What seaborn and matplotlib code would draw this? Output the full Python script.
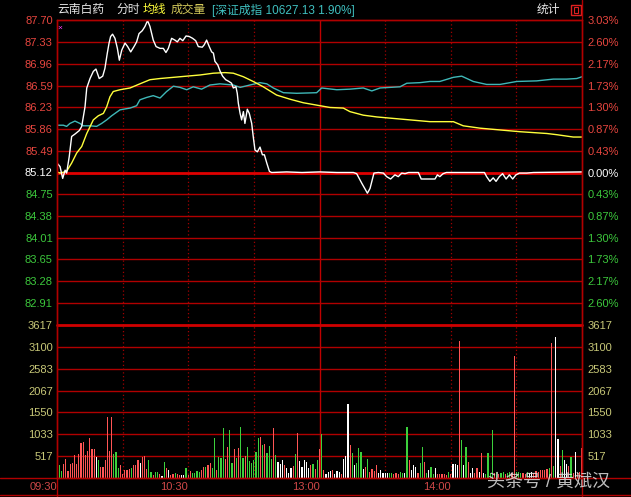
import pandas as pd
import matplotlib
matplotlib.use("Agg")
import matplotlib.pyplot as plt
from matplotlib.lines import Line2D
from matplotlib.patches import Rectangle
import seaborn as sns

W, H = 631, 497

# axis labels
price_ticks = [87.70, 87.33, 86.96, 86.59, 86.23, 85.86, 85.49, 85.12,
               84.75, 84.38, 84.01, 83.65, 83.28, 82.91]
pct_labels = ["3.03%", "2.60%", "2.17%", "1.73%", "1.30%", "0.87%", "0.43%", "0.00%",
              "0.43%", "0.87%", "1.30%", "1.73%", "2.17%", "2.60%"]
prev_close = 85.12
vol_ticks = [517, 1033, 1550, 2067, 2583, 3100, 3617]
time_ticks = [0, 60, 120, 180]
time_labels = ["09:30", "10:30", "13:00", "14:00"]

# price line (minute, price)
price_t = [0, 1.4, 2.6, 3.7, 4.4, 5.6, 6.7, 8.2, 10.2, 11.3, 12.8, 13.6, 15.1, 16.6, 17.8,
           19.3, 20.9, 21.9, 23.0, 23.8, 24.5, 25.4, 26.5, 27.6, 28.5, 29.6, 31.1, 32.3,
           33.7, 35.2, 36.4, 37.5, 39.0, 40.2, 41.4, 42.5, 44.0, 45.3, 47.1, 48.6, 49.8,
           50.9, 52.4, 53.9, 55.0, 56.2, 57.5, 59.0, 60.5, 62.0, 63.4, 64.6, 66.4, 67.3,
           68.4, 69.6, 70.7, 71.5, 72.2, 73.5, 74.5, 75.7, 77.1, 78.6, 79.8, 80.6, 81.8,
           82.4, 82.9, 83.7, 84.4, 85.2, 85.9, 87.0, 87.9, 89.0, 89.7, 90.5, 91.6, 92.8,
           93.9, 94.8, 95.9, 97.1, 98.1, 105, 112, 120, 128, 135.5, 137.0, 139.3, 141.9,
           143.1, 144.9, 146.9, 149.2, 150.7, 152.5, 154.5, 156.0, 157.6, 159.1, 160.7,
           165.2, 166.5, 172.8, 173.9, 175.0, 176.5, 178.0, 195.4, 196.4, 197.9, 199.4,
           200.7, 202.2, 203.7, 205.3, 206.8, 208.3, 209.8, 211.4, 214.7, 217.8, 240]
price_v = [85.28, 85.22, 85.02, 85.16, 85.11, 85.39, 85.73, 85.77, 85.83, 85.90, 86.23,
           86.55, 86.71, 86.83, 86.87, 86.71, 86.75, 86.88, 87.14, 87.31, 87.42, 87.46,
           87.39, 87.22, 87.02, 87.19, 87.31, 87.25, 87.16, 87.25, 87.33, 87.47, 87.52,
           87.59, 87.69, 87.59, 87.36, 87.25, 87.22, 87.22, 87.15, 87.22, 87.39, 87.36,
           87.33, 87.39, 87.35, 87.43, 87.42, 87.39, 87.35, 87.25, 87.24, 87.28, 87.36,
           87.25, 87.16, 87.14, 87.00, 86.94, 86.84, 86.75, 86.69, 86.66, 86.63, 86.55,
           86.57, 86.46, 86.29, 86.12, 86.01, 86.15, 85.95, 86.19, 86.12, 85.95, 85.73,
           85.50, 85.47, 85.55, 85.42, 85.42, 85.28, 85.14, 85.12, 85.13, 85.12, 85.13,
           85.12, 85.12, 85.10, 84.94, 84.77, 84.85, 85.11, 85.12, 85.11, 85.05, 85.01,
           85.08, 85.05, 85.11, 85.10, 85.12, 85.12, 85.01, 85.01, 85.08, 85.05, 85.10,
           85.12, 85.12, 85.05, 84.97, 85.03, 84.97, 85.05, 85.10, 85.01, 85.08, 85.01,
           85.08, 85.11, 85.11, 85.12, 85.13]

# average price line
avg_t = [0, 1.4, 4.4, 6.7, 9.0, 11.3, 13.6, 16.6, 18.9, 21.2, 22.7, 24.2, 25.7, 28.8, 33.4,
         37.9, 42.5, 47.1, 53.2, 59.3, 65.4, 71.5, 76.8, 80.6, 85.2, 89.7, 94.3, 100.4,
         106.5, 112.6, 118.7, 124.8, 130.9, 133.9, 140.0, 146.2, 152.2, 158.3, 164.4,
         170.5, 181.2, 185.7, 193.4, 202.5, 211.7, 223.9, 228.4, 236.0, 240]
avg_v = [85.13, 85.11, 85.14, 85.28, 85.45, 85.56, 85.78, 86.01, 86.08, 86.12, 86.23, 86.40,
         86.49, 86.52, 86.55, 86.62, 86.69, 86.71, 86.73, 86.75, 86.77, 86.80, 86.81, 86.80,
         86.74, 86.66, 86.57, 86.43, 86.36, 86.30, 86.26, 86.22, 86.21, 86.15, 86.09, 86.06,
         86.04, 86.02, 86.00, 85.98, 85.98, 85.91, 85.87, 85.84, 85.81, 85.78, 85.76, 85.72,
         85.72]

# index line (深证成指, drawn on the price scale)
idx_t = [0, 2.9, 4.4, 5.9, 8.2, 10.5, 12.0, 15.1, 18.1, 20.4, 22.7, 25.0, 28.8, 33.4, 36.4,
         37.9, 41.0, 44.0, 47.1, 50.1, 53.2, 56.2, 59.3, 62.3, 66.1, 69.9, 74.5, 80.6, 83.7,
         88.2, 92.8, 95.9, 98.9, 103.5, 109.6, 118.7, 121.0, 127.9, 133.9, 140.0, 143.9,
         147.7, 152.2, 156.8, 159.9, 165.9, 170.5, 175.0, 181.2, 185.0, 190.3, 196.4, 202.5,
         210.2, 219.3, 226.9, 233.0, 237.6, 240]
idx_v = [85.92, 85.92, 85.90, 85.95, 85.99, 85.95, 85.91, 85.91, 85.90, 85.95, 86.01, 86.08,
         86.18, 86.21, 86.25, 86.35, 86.39, 86.42, 86.38, 86.49, 86.58, 86.56, 86.52, 86.57,
         86.53, 86.60, 86.62, 86.60, 86.56, 86.60, 86.64, 86.62, 86.55, 86.47, 86.46, 86.47,
         86.55, 86.52, 86.53, 86.55, 86.50, 86.55, 86.56, 86.57, 86.63, 86.64, 86.66, 86.66,
         86.73, 86.75, 86.66, 86.61, 86.61, 86.66, 86.67, 86.70, 86.70, 86.71, 86.74]

# volume per minute (0..240), ten per row
volume = [638, 307, 173, 331, 449, 173, 331, 347, 544, 331,
          567, 820, 851, 544, 646, 938, 678, 678, 489, 425,
          252, 252, 425, 1450, 646, 1450, 567, 623, 228, 307,
          95, 189, 189, 205, 228, 307, 307, 425, 347, 504,
          520, 205, 425, 150, 60, 150, 150, 100, 47, 386,
          228, 189, 70, 95, 120, 95, 70, 70, 60, 244,
          70, 173, 120, 110, 173, 150, 189, 268, 252, 307,
          347, 228, 938, 189, 489, 465, 1174, 441, 741, 1135,
          362, 678, 465, 702, 1213, 465, 520, 741, 410, 347,
          425, 623, 938, 977, 780, 804, 599, 757, 441, 1190,
          544, 386, 331, 425, 307, 228, 125, 228, 280, 567,
          1056, 410, 252, 425, 386, 228, 307, 331, 205, 425,
          678, 1041, 189, 95, 150, 173, 189, 95, 173, 150,
          95, 441, 520, 1750, 780, 599, 307, 362, 702, 623,
          205, 252, 449, 150, 205, 173, 307, 110, 189, 110,
          110, 110, 110, 125, 95, 110, 95, 140, 110, 110,
          1213, 425, 189, 307, 252, 110, 362, 741, 386, 110,
          189, 252, 95, 228, 95, 95, 95, 95, 80, 140,
          95, 331, 331, 307, 3246, 898, 307, 741, 386, 110,
          228, 125, 228, 150, 583, 110, 95, 599, 110, 1135,
          110, 140, 95, 120, 150, 95, 110, 140, 125, 2884,
          140, 150, 120, 110, 95, 140, 110, 150, 125, 170,
          150, 190, 200, 190, 210, 230, 3184, 280, 3326, 922,
          280, 662, 425, 331, 280, 504, 110, 622, 110, 150,
          700]
# bar colour per minute, same rows: r up, g down, w flat
vol_color = ("rggrrrrrrr" "rrrrrrrrwg" "rrrrrrgggr" "rrrrgrrrwr" "rrggrggrwg"
             "rwrrgrrwwg" "rrggggrrgr" "rggrgggrrg" "grgrggrggg" "gggrgrgggr"
             "gwwwrwwwrg" "rwwwwwrgrg" "rgrwwwrwww" "rwwwrgwggg" "wrgrrrrwww"
             "wwggrrrggw" "grwwwrggrg" "wggwrrrrrg" "rwwwrgwgrw" "wrrwrwgggg"
             "rgrggrggrr" "gggrrgwwrr" "rrrrrgrgww" "rgwwrgrwrr" "r")

vol_df = pd.DataFrame({"minute": range(len(volume)), "volume": volume,
                       "dir": list(vol_color)})

sns.set_theme(style="dark", rc={"axes.facecolor": "black", "figure.facecolor": "black"})
plt.rcParams["font.family"] = ["Liberation Sans", "Noto Sans CJK SC", "DejaVu Sans"]

GRID = "#b00000"
RED_TXT = "#e8463f"
GREEN_TXT = "#3cc83c"
VOL_TXT = "#c8c878"

fig = plt.figure(figsize=(W / 100, H / 100), dpi=100)
ax_p = fig.add_axes([57 / W, (H - 325) / H, 525 / W, 305 / H])
ax_v = fig.add_axes([57 / W, (H - 478) / H, 525 / W, 153 / H])

# price panel
sns.lineplot(x=idx_t, y=idx_v, ax=ax_p, color="#3fb8b8", lw=1.0, estimator=None, sort=False)
sns.lineplot(x=avg_t, y=avg_v, ax=ax_p, color="#ffff3c", lw=1.0, estimator=None, sort=False)
sns.lineplot(x=price_t, y=price_v, ax=ax_p, color="white", lw=1.0, estimator=None, sort=False)
ax_p.set_xlim(0, 240)
step = (price_ticks[0] - prev_close) / 7
ax_p.set_ylim(prev_close - 7 * step, price_ticks[0])

for v in price_ticks:
    if v == prev_close:
        ax_p.axhline(v, color="#e00000", lw=2, zorder=1)
    else:
        ax_p.axhline(v, color=GRID, lw=1, zorder=1, clip_on=False)

# volume panel
sns.barplot(data=vol_df, x="minute", y="volume", hue="dir", native_scale=True,
            palette={"r": "#ff5555", "g": "#3cd03c", "w": "#ffffff"}, dodge=False,
            width=0.55, errorbar=None, legend=False, saturation=1, linewidth=0, ax=ax_v)
ax_v.set_xlim(0, 240)
ax_v.set_ylim(0, vol_ticks[-1])
for v in vol_ticks:
    if v == vol_ticks[-1]:
        ax_v.axhline(v, color="#d00000", lw=2, zorder=1, clip_on=False)
    else:
        ax_v.axhline(v, color=GRID, lw=1, zorder=0)

for ax in (ax_p, ax_v):
    for t in [30, 60, 90, 150, 180, 210]:
        ax.axvline(t, color="#a00000", lw=0.9, ls=(0, (1, 2)), zorder=0)
    ax.axvline(120, color="#c00000", lw=1, zorder=0)
    for s in ax.spines.values():
        s.set_color(GRID)
        s.set_linewidth(1)
    ax.set_xlabel("")
    ax.set_ylabel("")
ax_p.spines["bottom"].set_visible(False)
ax_v.spines["top"].set_visible(False)

# tick labels
ax_p.set_xticks([])
ax_p.set_yticks(price_ticks)
ax_p.set_yticklabels([f"{v:.2f}" for v in price_ticks])
ax_p.tick_params(axis="y", length=0, pad=3, labelsize=8)
for lbl, v in zip(ax_p.get_yticklabels(), price_ticks):
    lbl.set_color("white" if v == prev_close else (RED_TXT if v > prev_close else GREEN_TXT))

ax_pr = ax_p.twinx()
ax_pr.set_ylim(ax_p.get_ylim())
ax_pr.set_yticks(price_ticks)
ax_pr.set_yticklabels(pct_labels)
ax_pr.tick_params(axis="y", length=0, pad=4, labelsize=8)
for lbl, v in zip(ax_pr.get_yticklabels(), price_ticks):
    lbl.set_color("white" if v == prev_close else (RED_TXT if v > prev_close else GREEN_TXT))
ax_pr.spines[:].set_visible(False)
ax_pr.grid(False)

ax_v.set_yticks(vol_ticks)
ax_v.set_yticklabels([str(v) for v in vol_ticks])
ax_v.tick_params(axis="y", length=0, pad=3, labelsize=8, labelcolor=VOL_TXT)
ax_v.set_xticks(time_ticks)
ax_v.set_xticklabels(time_labels, ha="right")
ax_v.tick_params(axis="x", length=0, pad=3, labelsize=8, labelcolor="#d04848")

ax_vr = ax_v.twinx()
ax_vr.set_ylim(ax_v.get_ylim())
ax_vr.set_yticks(vol_ticks)
ax_vr.set_yticklabels([str(v) for v in vol_ticks])
ax_vr.tick_params(axis="y", length=0, pad=4, labelsize=8, labelcolor=VOL_TXT)
ax_vr.spines[:].set_visible(False)
ax_vr.grid(False)


def fx(x):
    return x / W


def fy(y):
    return 1 - y / H


# outer frame lines
for x0, x1, y0, y1 in [(0, W, 478, 478), (0, W, 495, 495), (57, 57, 20, H), (582, 582, 0, H)]:
    fig.add_artist(Line2D([fx(x0), fx(x1)], [fy(y0), fy(y1)], color=GRID, lw=1))

# header
header = [(57, "云南白药", "#e6e6e6"), (116, "分时", "#e6e6e6"), (143, "均线", "#ffff3c"),
          (171, "成交量", "#d2c85a"), (212, "[深证成指 10627.13 1.90%]", "#3fc0c0"),
          (537, "统计", "#e6e6e6")]
for x, txt, c in header:
    fig.text(fx(x), fy(10), txt, color=c, fontsize=8.5, ha="left", va="center")
fig.add_artist(Rectangle((fx(571), fy(15)), 10 / W, 10 / H, fill=False, edgecolor="#e02020", lw=1))
fig.add_artist(Rectangle((fx(574), fy(13)), 4 / W, 6 / H, fill=False, edgecolor="#e02020", lw=0.8))
fig.text(fx(60), fy(28), "×", color="#ff40ff", fontsize=6, ha="center", va="center")

# watermark
fig.text(fx(487), fy(482), "头条号 / 黄斌汉", color="#e0e0e0", alpha=0.85,
         fontsize=13, ha="left", va="center")

fig.savefig("out.png", dpi=100, facecolor="black")
